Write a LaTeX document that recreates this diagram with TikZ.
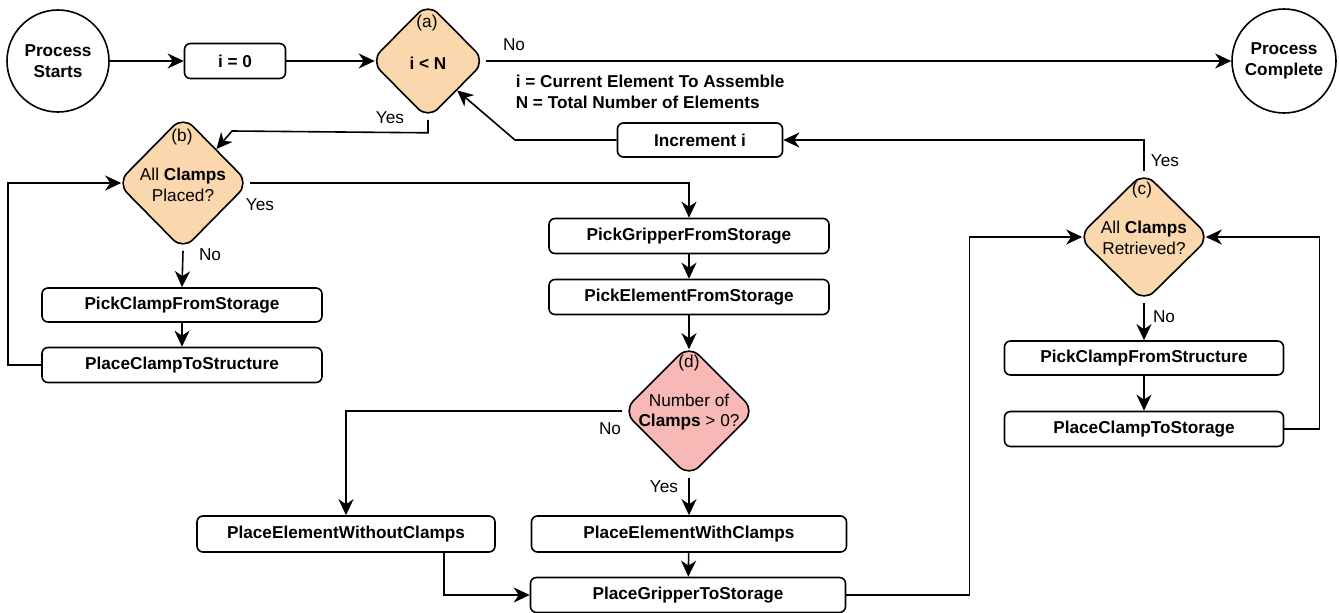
\documentclass[tikz,border=0pt]{standalone}
\usepackage{fontspec}
\setmainfont{Liberation Sans}
\usetikzlibrary{shapes.geometric,arrows.meta}
\definecolor{decisionfill}{HTML}{FAD7AC}
\definecolor{checkfill}{HTML}{F8B8B6}
\begin{document}
\begin{tikzpicture}[x=1pt,y=-1pt,
  font=\fontsize{17.2}{20.5}\selectfont,
  line width=1.6pt,
  arr/.style={-{Stealth[length=16pt,width=15pt,inset=5pt]}},
  tovertex/.style={shorten >=-5pt},
  terminal/.style={circle,draw,fill=white,minimum size=#1,inner sep=0pt,align=center,font=\fontsize{17.2}{20.5}\selectfont\bfseries},
  stepbox/.style={draw,fill=white,rounded corners=6pt,minimum width=#1,minimum height=35pt,inner sep=0pt,font=\fontsize{17.2}{20.5}\selectfont\bfseries},
  decision/.style={diamond,draw,fill=#1,minimum width=132pt,minimum height=132pt,inner sep=0pt,rounded corners=14pt},
  tag/.style={inner sep=0pt,align=center},
  lbl/.style={inner sep=0pt}]
\useasboundingbox (0,0) rectangle (1339,613);

% terminals
\node[terminal=102pt] (start) at (58,61) {Process\\Starts};
\node[terminal=104pt] (done) at (1284,61) {Process\\Complete};

% main loop over elements
\node[stepbox=101pt] (init) at (235,61) {i = 0};
\node[decision=decisionfill,minimum width=115pt,minimum height=116pt] (a) at (428,61) {};
\node[tag] (aTag) at (427,23) {(a)};
\node[tag,font=\fontsize{17.2}{20.5}\selectfont\bfseries] (aTxt) at (428,63) {i < N};
\node[anchor=west,align=left,inner sep=0pt,font=\fontsize{17.2}{20.5}\selectfont\bfseries] (legend) at (515,92)
  {i = Current Element To Assemble\\N = Total Number of Elements};
\node[stepbox=165pt,minimum height=34pt] (inc) at (700,140) {Increment i};

% placing the clamps
\node[decision=decisionfill,minimum height=134pt] (b) at (183,183) {};
\node[tag] (bTag) at (182,137) {(b)};
\node[tag] (bTxt) at (183,185) {All \textbf{Clamps}\\Placed?};
\node[stepbox=280pt,minimum height=34pt] (pcs) at (182,305) {PickClampFromStorage};
\node[stepbox=280pt] (pcts) at (182,365) {PlaceClampToStructure};

% element placement
\node[stepbox=280pt] (pgs) at (689,236) {PickGripperFromStorage};
\node[stepbox=280pt] (pes) at (689,297) {PickElementFromStorage};
\node[decision=checkfill] (d) at (689,411) {};
\node[tag] (dTag) at (689,363) {(d)};
\node[tag] (dTxt) at (689,412) {Number of\\\textbf{Clamps} > 0?};
\node[stepbox=298pt,minimum height=36pt] (pewo) at (346,534) {PlaceElementWithoutClamps};
\node[stepbox=315pt,minimum height=36pt] (pew) at (689,534) {PlaceElementWithClamps};
\node[stepbox=315pt] (pgts) at (688,595) {PlaceGripperToStorage};

% retrieving the clamps
\node[decision=decisionfill,minimum height=130pt] (c) at (1144,237) {};
\node[tag] (cTag) at (1142,190) {(c)};
\node[tag] (cTxt) at (1144,238) {All \textbf{Clamps}\\Retrieved?};
\node[stepbox=279pt,minimum height=34pt] (pcfs) at (1144,358) {PickClampFromStructure};
\node[stepbox=279pt] (pcst) at (1144,429) {PlaceClampToStorage};

% connectors
\draw[arr] (start) -- (init);
\draw[arr,tovertex] (init) -- (a.west);
\draw[arr] (a.east) -- (done.west);
\node[lbl] (noA) at (514,45) {No};
\draw[arr] (a.south) -- ++(0,13) -- (232,131) -- (b.north east);
\node[lbl] (yesA) at (390,118) {Yes};

\draw[arr] (b.east) -| (pgs.north);
\node[lbl] (yesB) at (260,205) {Yes};
\draw[arr] (b.south) -- (pcs.north);
\node[lbl] (noB) at (210,255) {No};
\draw[arr] (pcs) -- (pcts);
\draw[arr,tovertex] (pcts.west) -- (8,365) |- (b.west);

\draw[arr] (pgs) -- (pes);
\draw[arr,tovertex] (pes) -- (d.north);
\draw[arr] (d.west) -| (pewo.north);
\node[lbl] (noD) at (610,429) {No};
\draw[arr] (d.south) -- (pew.north);
\node[lbl] (yesD) at (664,487) {Yes};
\draw[arr] (pew) -- (pgts);
\draw[arr] (pewo.south east) ++(-52,0) |- (pgts.west);
\draw[arr,tovertex] (pgts.east) -- ++(123,0) |- (c.west);

\draw[arr] (c.south) -- (pcfs.north);
\node[lbl] (noC) at (1164,317) {No};
\draw[arr] (pcfs) -- (pcst);
\draw[arr,tovertex] (pcst.east) -- ++(35,0) |- (c.east);
\draw[arr] (c.north) |- (inc.east);
\node[lbl] (yesC) at (1165,161) {Yes};
\draw[arr] (inc.west) -- (515,140) -- (a.south east);
\end{tikzpicture}
\end{document}
